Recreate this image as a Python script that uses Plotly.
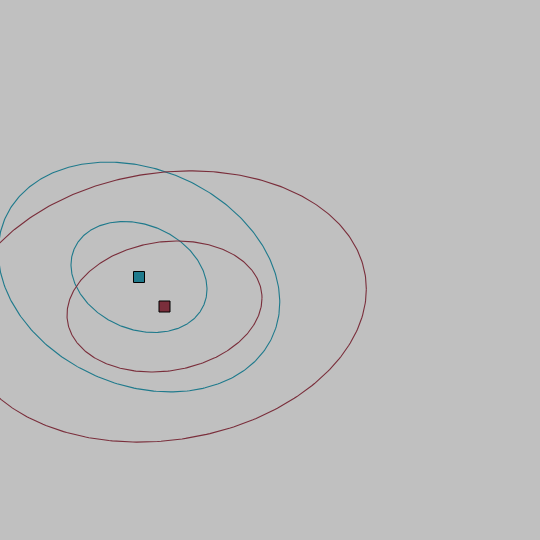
import numpy as np
import plotly.graph_objects as go

# Group centers (chart units; y grows downward)
groups = ["A", "B"]
center_x = [139.0, 164.5]
center_y = [277.0, 306.5]
# Covariance-like spread of each group
var_x = [68.0 ** 2, 97.5 ** 2]
var_y = [55.5 ** 2, 65.5 ** 2]
cov_xy = [832.0, -819.0]
# Ellipse scale levels
levels = [1.0, 2.07]

colors = ["#1f7a8c", "#7a2e3b"]

fig = go.Figure()
t = np.linspace(0, 2 * np.pi, 361)
for i, g in enumerate(groups):
    S = np.array([[var_x[i], cov_xy[i]], [cov_xy[i], var_y[i]]])
    L = np.linalg.cholesky(S)
    for k in levels:
        pts = k * (L @ np.vstack([np.cos(t), np.sin(t)]))
        fig.add_trace(go.Scatter(
            x=center_x[i] + pts[0], y=center_y[i] + pts[1],
            mode="lines", line=dict(color=colors[i], width=1.1),
            hoverinfo="skip", showlegend=False))

for i, g in enumerate(groups):
    fig.add_trace(go.Scatter(
        x=[center_x[i]], y=[center_y[i]], mode="markers", name=g,
        marker=dict(symbol="square", size=11, color=colors[i],
                    line=dict(color="black", width=1)),
        showlegend=False))

fig.update_layout(
    width=540, height=540,
    margin=dict(l=0, r=0, t=0, b=0),
    paper_bgcolor="#c0c0c0", plot_bgcolor="#c0c0c0",
    xaxis=dict(range=[0, 540], visible=False),
    yaxis=dict(range=[540, 0], visible=False),
)
fig.write_html("out.html", config={"displayModeBar": False},
               post_script="document.body.style.margin='0';document.body.style.background='#c0c0c0';")
